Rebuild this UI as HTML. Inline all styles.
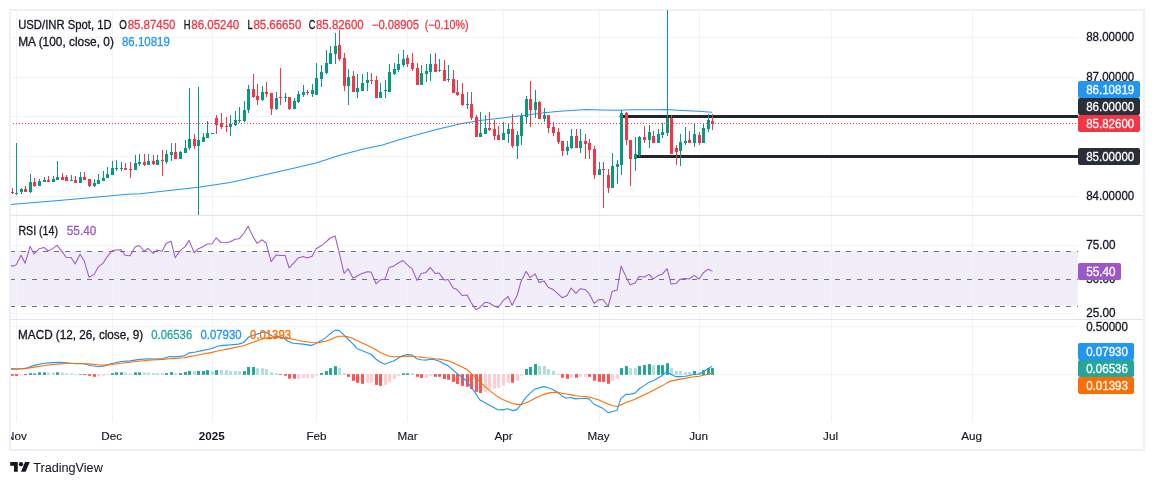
<!DOCTYPE html>
<html lang="en"><head><meta charset="utf-8"><title>USD/INR Spot chart</title>
<style>html,body{margin:0;padding:0;background:#fff}body{width:1154px;height:485px;overflow:hidden}</style></head>
<body>
<svg width="1154" height="485" viewBox="0 0 1154 485" style="display:block;font-family:'Liberation Sans', sans-serif;will-change:transform">
<defs><clipPath id="cp"><rect x="11" y="10" width="1067" height="411"/></clipPath><clipPath id="ct"><rect x="11" y="421" width="1132" height="28"/></clipPath></defs>
<rect x="0" y="0" width="1154" height="485" fill="#ffffff"/>
<rect x="11" y="251" width="1067" height="55" fill="#f2eef9" shape-rendering="crispEdges"/>
<g fill="#f2f3f4" shape-rendering="crispEdges">
<rect x="16" y="11" width="1" height="411"/>
<rect x="112" y="11" width="1" height="411"/>
<rect x="212" y="11" width="1" height="411"/>
<rect x="316" y="11" width="1" height="411"/>
<rect x="407" y="11" width="1" height="411"/>
<rect x="503" y="11" width="1" height="411"/>
<rect x="599" y="11" width="1" height="411"/>
<rect x="699" y="11" width="1" height="411"/>
<rect x="831" y="11" width="1" height="411"/>
<rect x="972" y="11" width="1" height="411"/>
<rect x="11" y="37" width="1067" height="1"/>
<rect x="11" y="77" width="1067" height="1"/>
<rect x="11" y="116" width="1067" height="1"/>
<rect x="11" y="156" width="1067" height="1"/>
<rect x="11" y="196" width="1067" height="1"/>
<rect x="11" y="245" width="1067" height="1"/>
<rect x="11" y="279" width="1067" height="1"/>
<rect x="11" y="313" width="1067" height="1"/>
<rect x="11" y="326" width="1067" height="1"/>
<rect x="11" y="374" width="1067" height="1"/>
</g>
<g fill="#e0e3eb" shape-rendering="crispEdges"><rect x="11" y="215" width="1132" height="1"/><rect x="11" y="319" width="1132" height="1"/></g>
<g stroke="#6f727c" stroke-width="1" stroke-dasharray="5 6" shape-rendering="crispEdges">
<line x1="10" y1="251.5" x2="1078" y2="251.5"/>
<line x1="10" y1="279.5" x2="1078" y2="279.5"/>
<line x1="10" y1="306.5" x2="1078" y2="306.5"/>
</g>
<rect x="10" y="10" width="1134" height="440" fill="none" stroke="#eef0f5" stroke-width="2" shape-rendering="crispEdges"/>
<g clip-path="url(#cp)">
<line x1="621" y1="116.5" x2="1078" y2="116.5" stroke="#22262f" stroke-width="3" stroke-linecap="round"/>
<line x1="635.5" y1="156.5" x2="1078" y2="156.5" stroke="#22262f" stroke-width="3" stroke-linecap="round"/>
<polyline points="10.6,204.5 70.4,199.5 128.0,194.3 140.0,193.7 198.4,187.3 230.0,182.4 249.1,178.3 268.1,173.9 287.2,169.7 306.3,165.3 315.8,163.0 325.3,160.1 334.9,156.7 344.4,153.9 363.5,149.1 382.5,144.9 401.6,139.0 420.7,133.8 439.7,128.7 460.8,123.7 481.6,120.3 502.4,118.0 523.0,115.4 544.0,112.8 560.0,111.2 571.0,110.4 586.0,109.5 602.0,109.9 617.6,110.2 633.0,109.7 654.0,109.7 666.0,109.6 681.6,110.4 699.0,111.2 711.7,112.3" fill="none" stroke="#2196f3" stroke-width="1.05" stroke-linejoin="round" stroke-linecap="round"/>
<g shape-rendering="crispEdges">
<rect x="12" y="188" width="1" height="6" fill="#f23645"/>
<rect x="11" y="192" width="3" height="1" fill="#f23645"/>
<rect x="16" y="143" width="1" height="52" fill="#089981"/>
<rect x="15" y="193" width="3" height="1" fill="#089981"/>
<rect x="21" y="188" width="1" height="6" fill="#089981"/>
<rect x="20" y="189" width="3" height="3" fill="#089981"/>
<rect x="25" y="186" width="1" height="6" fill="#f23645"/>
<rect x="24" y="189" width="3" height="3" fill="#f23645"/>
<rect x="30" y="174" width="1" height="19" fill="#089981"/>
<rect x="29" y="182" width="3" height="10" fill="#089981"/>
<rect x="34" y="178" width="1" height="9" fill="#f23645"/>
<rect x="33" y="182" width="3" height="4" fill="#f23645"/>
<rect x="39" y="179" width="1" height="7" fill="#089981"/>
<rect x="38" y="181" width="3" height="5" fill="#089981"/>
<rect x="44" y="177" width="1" height="5" fill="#089981"/>
<rect x="43" y="180" width="3" height="2" fill="#089981"/>
<rect x="48" y="176" width="1" height="6" fill="#f23645"/>
<rect x="47" y="180" width="3" height="2" fill="#f23645"/>
<rect x="53" y="176" width="1" height="6" fill="#089981"/>
<rect x="52" y="179" width="3" height="3" fill="#089981"/>
<rect x="57" y="161" width="1" height="19" fill="#089981"/>
<rect x="56" y="177" width="3" height="3" fill="#089981"/>
<rect x="62" y="173" width="1" height="7" fill="#f23645"/>
<rect x="61" y="177" width="3" height="3" fill="#f23645"/>
<rect x="66" y="175" width="1" height="6" fill="#f23645"/>
<rect x="65" y="177" width="3" height="4" fill="#f23645"/>
<rect x="71" y="175" width="1" height="6" fill="#089981"/>
<rect x="70" y="180" width="3" height="1" fill="#089981"/>
<rect x="75" y="176" width="1" height="7" fill="#f23645"/>
<rect x="74" y="180" width="3" height="3" fill="#f23645"/>
<rect x="80" y="172" width="1" height="11" fill="#089981"/>
<rect x="79" y="177" width="3" height="6" fill="#089981"/>
<rect x="84" y="172" width="1" height="8" fill="#f23645"/>
<rect x="83" y="177" width="3" height="3" fill="#f23645"/>
<rect x="89" y="179" width="1" height="8" fill="#f23645"/>
<rect x="88" y="179" width="3" height="7" fill="#f23645"/>
<rect x="94" y="179" width="1" height="8" fill="#089981"/>
<rect x="93" y="183" width="3" height="3" fill="#089981"/>
<rect x="98" y="174" width="1" height="10" fill="#089981"/>
<rect x="97" y="180" width="3" height="4" fill="#089981"/>
<rect x="103" y="171" width="1" height="10" fill="#089981"/>
<rect x="102" y="178" width="3" height="3" fill="#089981"/>
<rect x="107" y="167" width="1" height="11" fill="#089981"/>
<rect x="106" y="174" width="3" height="4" fill="#089981"/>
<rect x="112" y="161" width="1" height="14" fill="#089981"/>
<rect x="111" y="168" width="3" height="7" fill="#089981"/>
<rect x="116" y="160" width="1" height="11" fill="#089981"/>
<rect x="115" y="168" width="3" height="1" fill="#089981"/>
<rect x="121" y="162" width="1" height="9" fill="#089981"/>
<rect x="120" y="168" width="3" height="1" fill="#089981"/>
<rect x="125" y="163" width="1" height="7" fill="#f23645"/>
<rect x="124" y="168" width="3" height="2" fill="#f23645"/>
<rect x="130" y="162" width="1" height="16" fill="#f23645"/>
<rect x="129" y="169" width="3" height="1" fill="#f23645"/>
<rect x="135" y="155" width="1" height="15" fill="#089981"/>
<rect x="134" y="163" width="3" height="7" fill="#089981"/>
<rect x="139" y="154" width="1" height="12" fill="#089981"/>
<rect x="138" y="162" width="3" height="2" fill="#089981"/>
<rect x="144" y="154" width="1" height="12" fill="#f23645"/>
<rect x="143" y="162" width="3" height="3" fill="#f23645"/>
<rect x="148" y="154" width="1" height="11" fill="#089981"/>
<rect x="147" y="161" width="3" height="4" fill="#089981"/>
<rect x="153" y="155" width="1" height="10" fill="#f23645"/>
<rect x="152" y="161" width="3" height="3" fill="#f23645"/>
<rect x="157" y="155" width="1" height="10" fill="#089981"/>
<rect x="156" y="160" width="3" height="5" fill="#089981"/>
<rect x="162" y="150" width="1" height="26" fill="#f23645"/>
<rect x="161" y="160" width="3" height="1" fill="#f23645"/>
<rect x="166" y="150" width="1" height="14" fill="#089981"/>
<rect x="165" y="154" width="3" height="8" fill="#089981"/>
<rect x="171" y="143" width="1" height="18" fill="#089981"/>
<rect x="170" y="152" width="3" height="3" fill="#089981"/>
<rect x="175" y="143" width="1" height="16" fill="#f23645"/>
<rect x="174" y="152" width="3" height="7" fill="#f23645"/>
<rect x="180" y="151" width="1" height="8" fill="#089981"/>
<rect x="179" y="152" width="3" height="7" fill="#089981"/>
<rect x="185" y="140" width="1" height="13" fill="#089981"/>
<rect x="184" y="148" width="3" height="5" fill="#089981"/>
<rect x="189" y="88" width="1" height="62" fill="#089981"/>
<rect x="188" y="139" width="3" height="9" fill="#089981"/>
<rect x="194" y="134" width="1" height="15" fill="#f23645"/>
<rect x="193" y="139" width="3" height="7" fill="#f23645"/>
<rect x="198" y="87" width="1" height="128" fill="#089981"/>
<rect x="197" y="140" width="3" height="6" fill="#089981"/>
<rect x="203" y="133" width="1" height="9" fill="#089981"/>
<rect x="202" y="137" width="3" height="5" fill="#089981"/>
<rect x="207" y="121" width="1" height="17" fill="#089981"/>
<rect x="206" y="133" width="3" height="5" fill="#089981"/>
<rect x="212" y="133" width="1" height="1" fill="#089981"/>
<rect x="211" y="133" width="3" height="1" fill="#089981"/>
<rect x="216" y="115" width="1" height="19" fill="#f23645"/>
<rect x="215" y="118" width="3" height="7" fill="#f23645"/>
<rect x="221" y="113" width="1" height="16" fill="#f23645"/>
<rect x="220" y="123" width="3" height="4" fill="#f23645"/>
<rect x="226" y="117" width="1" height="15" fill="#f23645"/>
<rect x="225" y="126" width="3" height="1" fill="#f23645"/>
<rect x="230" y="115" width="1" height="21" fill="#089981"/>
<rect x="229" y="124" width="3" height="3" fill="#089981"/>
<rect x="235" y="111" width="1" height="15" fill="#089981"/>
<rect x="234" y="120" width="3" height="5" fill="#089981"/>
<rect x="239" y="107" width="1" height="16" fill="#089981"/>
<rect x="238" y="120" width="3" height="1" fill="#089981"/>
<rect x="244" y="101" width="1" height="21" fill="#089981"/>
<rect x="243" y="110" width="3" height="11" fill="#089981"/>
<rect x="248" y="85" width="1" height="28" fill="#089981"/>
<rect x="247" y="89" width="3" height="21" fill="#089981"/>
<rect x="253" y="74" width="1" height="24" fill="#f23645"/>
<rect x="252" y="89" width="3" height="8" fill="#f23645"/>
<rect x="257" y="84" width="1" height="21" fill="#f23645"/>
<rect x="256" y="96" width="3" height="4" fill="#f23645"/>
<rect x="262" y="86" width="1" height="15" fill="#089981"/>
<rect x="261" y="92" width="3" height="8" fill="#089981"/>
<rect x="266" y="82" width="1" height="15" fill="#f23645"/>
<rect x="265" y="92" width="3" height="2" fill="#f23645"/>
<rect x="271" y="93" width="1" height="22" fill="#f23645"/>
<rect x="270" y="93" width="3" height="16" fill="#f23645"/>
<rect x="276" y="92" width="1" height="18" fill="#089981"/>
<rect x="275" y="98" width="3" height="11" fill="#089981"/>
<rect x="280" y="68" width="1" height="37" fill="#f23645"/>
<rect x="279" y="97" width="3" height="1" fill="#f23645"/>
<rect x="285" y="93" width="1" height="9" fill="#089981"/>
<rect x="284" y="97" width="3" height="1" fill="#089981"/>
<rect x="289" y="97" width="1" height="13" fill="#f23645"/>
<rect x="288" y="97" width="3" height="12" fill="#f23645"/>
<rect x="294" y="98" width="1" height="11" fill="#089981"/>
<rect x="293" y="101" width="3" height="8" fill="#089981"/>
<rect x="298" y="91" width="1" height="12" fill="#089981"/>
<rect x="297" y="94" width="3" height="8" fill="#089981"/>
<rect x="303" y="85" width="1" height="12" fill="#089981"/>
<rect x="302" y="92" width="3" height="3" fill="#089981"/>
<rect x="307" y="90" width="1" height="5" fill="#f23645"/>
<rect x="306" y="92" width="3" height="1" fill="#f23645"/>
<rect x="312" y="84" width="1" height="13" fill="#089981"/>
<rect x="311" y="90" width="3" height="4" fill="#089981"/>
<rect x="316" y="63" width="1" height="32" fill="#089981"/>
<rect x="315" y="78" width="3" height="17" fill="#089981"/>
<rect x="321" y="65" width="1" height="22" fill="#089981"/>
<rect x="320" y="72" width="3" height="7" fill="#089981"/>
<rect x="326" y="50" width="1" height="24" fill="#089981"/>
<rect x="325" y="63" width="3" height="10" fill="#089981"/>
<rect x="330" y="46" width="1" height="18" fill="#089981"/>
<rect x="329" y="53" width="3" height="11" fill="#089981"/>
<rect x="335" y="33" width="1" height="31" fill="#089981"/>
<rect x="334" y="46" width="3" height="8" fill="#089981"/>
<rect x="339" y="30" width="1" height="31" fill="#f23645"/>
<rect x="338" y="45" width="3" height="14" fill="#f23645"/>
<rect x="344" y="53" width="1" height="38" fill="#f23645"/>
<rect x="343" y="58" width="3" height="28" fill="#f23645"/>
<rect x="348" y="69" width="1" height="36" fill="#089981"/>
<rect x="347" y="77" width="3" height="9" fill="#089981"/>
<rect x="353" y="71" width="1" height="21" fill="#f23645"/>
<rect x="352" y="76" width="3" height="16" fill="#f23645"/>
<rect x="357" y="74" width="1" height="24" fill="#089981"/>
<rect x="356" y="88" width="3" height="4" fill="#089981"/>
<rect x="362" y="74" width="1" height="17" fill="#089981"/>
<rect x="361" y="83" width="3" height="8" fill="#089981"/>
<rect x="367" y="72" width="1" height="19" fill="#089981"/>
<rect x="366" y="80" width="3" height="3" fill="#089981"/>
<rect x="371" y="73" width="1" height="11" fill="#f23645"/>
<rect x="370" y="80" width="3" height="1" fill="#f23645"/>
<rect x="376" y="76" width="1" height="22" fill="#f23645"/>
<rect x="375" y="80" width="3" height="18" fill="#f23645"/>
<rect x="380" y="83" width="1" height="15" fill="#089981"/>
<rect x="379" y="92" width="3" height="6" fill="#089981"/>
<rect x="385" y="80" width="1" height="18" fill="#089981"/>
<rect x="384" y="90" width="3" height="1" fill="#089981"/>
<rect x="389" y="64" width="1" height="28" fill="#089981"/>
<rect x="388" y="72" width="3" height="20" fill="#089981"/>
<rect x="394" y="63" width="1" height="12" fill="#089981"/>
<rect x="393" y="69" width="3" height="5" fill="#089981"/>
<rect x="398" y="54" width="1" height="18" fill="#089981"/>
<rect x="397" y="64" width="3" height="6" fill="#089981"/>
<rect x="403" y="50" width="1" height="17" fill="#089981"/>
<rect x="402" y="59" width="3" height="6" fill="#089981"/>
<rect x="407" y="55" width="1" height="12" fill="#f23645"/>
<rect x="406" y="58" width="3" height="6" fill="#f23645"/>
<rect x="412" y="53" width="1" height="18" fill="#f23645"/>
<rect x="411" y="63" width="3" height="6" fill="#f23645"/>
<rect x="417" y="63" width="1" height="22" fill="#f23645"/>
<rect x="416" y="68" width="3" height="17" fill="#f23645"/>
<rect x="421" y="65" width="1" height="20" fill="#089981"/>
<rect x="420" y="73" width="3" height="12" fill="#089981"/>
<rect x="426" y="64" width="1" height="18" fill="#089981"/>
<rect x="425" y="71" width="3" height="3" fill="#089981"/>
<rect x="430" y="54" width="1" height="27" fill="#089981"/>
<rect x="429" y="64" width="3" height="8" fill="#089981"/>
<rect x="435" y="53" width="1" height="19" fill="#f23645"/>
<rect x="434" y="64" width="3" height="8" fill="#f23645"/>
<rect x="439" y="59" width="1" height="13" fill="#089981"/>
<rect x="438" y="70" width="3" height="1" fill="#089981"/>
<rect x="444" y="60" width="1" height="21" fill="#f23645"/>
<rect x="443" y="70" width="3" height="11" fill="#f23645"/>
<rect x="448" y="65" width="1" height="17" fill="#089981"/>
<rect x="447" y="79" width="3" height="1" fill="#089981"/>
<rect x="453" y="70" width="1" height="23" fill="#f23645"/>
<rect x="452" y="79" width="3" height="14" fill="#f23645"/>
<rect x="457" y="80" width="1" height="16" fill="#f23645"/>
<rect x="456" y="92" width="3" height="3" fill="#f23645"/>
<rect x="462" y="83" width="1" height="23" fill="#f23645"/>
<rect x="461" y="94" width="3" height="11" fill="#f23645"/>
<rect x="467" y="92" width="1" height="17" fill="#089981"/>
<rect x="466" y="104" width="3" height="1" fill="#089981"/>
<rect x="471" y="92" width="1" height="28" fill="#f23645"/>
<rect x="470" y="104" width="3" height="14" fill="#f23645"/>
<rect x="476" y="115" width="1" height="22" fill="#f23645"/>
<rect x="475" y="117" width="3" height="20" fill="#f23645"/>
<rect x="480" y="112" width="1" height="25" fill="#089981"/>
<rect x="479" y="133" width="3" height="4" fill="#089981"/>
<rect x="485" y="115" width="1" height="19" fill="#089981"/>
<rect x="484" y="128" width="3" height="6" fill="#089981"/>
<rect x="489" y="112" width="1" height="19" fill="#f23645"/>
<rect x="488" y="128" width="3" height="2" fill="#f23645"/>
<rect x="494" y="120" width="1" height="20" fill="#f23645"/>
<rect x="493" y="129" width="3" height="7" fill="#f23645"/>
<rect x="498" y="126" width="1" height="14" fill="#f23645"/>
<rect x="497" y="135" width="3" height="5" fill="#f23645"/>
<rect x="503" y="122" width="1" height="18" fill="#089981"/>
<rect x="502" y="133" width="3" height="7" fill="#089981"/>
<rect x="508" y="124" width="1" height="19" fill="#089981"/>
<rect x="507" y="129" width="3" height="5" fill="#089981"/>
<rect x="512" y="114" width="1" height="34" fill="#f23645"/>
<rect x="511" y="129" width="3" height="17" fill="#f23645"/>
<rect x="517" y="131" width="1" height="28" fill="#089981"/>
<rect x="516" y="135" width="3" height="11" fill="#089981"/>
<rect x="521" y="113" width="1" height="32" fill="#089981"/>
<rect x="520" y="116" width="3" height="20" fill="#089981"/>
<rect x="526" y="96" width="1" height="27" fill="#089981"/>
<rect x="525" y="99" width="3" height="18" fill="#089981"/>
<rect x="530" y="81" width="1" height="46" fill="#f23645"/>
<rect x="529" y="99" width="3" height="11" fill="#f23645"/>
<rect x="535" y="90" width="1" height="28" fill="#089981"/>
<rect x="534" y="102" width="3" height="8" fill="#089981"/>
<rect x="539" y="101" width="1" height="18" fill="#f23645"/>
<rect x="538" y="102" width="3" height="17" fill="#f23645"/>
<rect x="544" y="108" width="1" height="14" fill="#089981"/>
<rect x="543" y="115" width="3" height="4" fill="#089981"/>
<rect x="548" y="115" width="1" height="18" fill="#f23645"/>
<rect x="547" y="115" width="3" height="13" fill="#f23645"/>
<rect x="553" y="122" width="1" height="14" fill="#f23645"/>
<rect x="552" y="127" width="3" height="6" fill="#f23645"/>
<rect x="558" y="128" width="1" height="16" fill="#f23645"/>
<rect x="557" y="132" width="3" height="10" fill="#f23645"/>
<rect x="562" y="141" width="1" height="15" fill="#f23645"/>
<rect x="561" y="141" width="3" height="10" fill="#f23645"/>
<rect x="567" y="141" width="1" height="14" fill="#089981"/>
<rect x="566" y="147" width="3" height="4" fill="#089981"/>
<rect x="571" y="129" width="1" height="20" fill="#089981"/>
<rect x="570" y="136" width="3" height="12" fill="#089981"/>
<rect x="576" y="129" width="1" height="19" fill="#f23645"/>
<rect x="575" y="136" width="3" height="12" fill="#f23645"/>
<rect x="580" y="129" width="1" height="24" fill="#089981"/>
<rect x="579" y="141" width="3" height="7" fill="#089981"/>
<rect x="585" y="134" width="1" height="25" fill="#f23645"/>
<rect x="584" y="141" width="3" height="3" fill="#f23645"/>
<rect x="589" y="139" width="1" height="20" fill="#f23645"/>
<rect x="588" y="143" width="3" height="7" fill="#f23645"/>
<rect x="594" y="146" width="1" height="33" fill="#f23645"/>
<rect x="593" y="149" width="3" height="26" fill="#f23645"/>
<rect x="599" y="162" width="1" height="13" fill="#089981"/>
<rect x="598" y="169" width="3" height="6" fill="#089981"/>
<rect x="603" y="162" width="1" height="46" fill="#f23645"/>
<rect x="602" y="169" width="3" height="1" fill="#f23645"/>
<rect x="608" y="169" width="1" height="24" fill="#f23645"/>
<rect x="607" y="175" width="3" height="13" fill="#f23645"/>
<rect x="612" y="153" width="1" height="35" fill="#089981"/>
<rect x="611" y="166" width="3" height="22" fill="#089981"/>
<rect x="617" y="160" width="1" height="24" fill="#089981"/>
<rect x="616" y="164" width="3" height="3" fill="#089981"/>
<rect x="621" y="110" width="1" height="65" fill="#089981"/>
<rect x="620" y="113" width="3" height="52" fill="#089981"/>
<rect x="626" y="112" width="1" height="33" fill="#f23645"/>
<rect x="625" y="113" width="3" height="27" fill="#f23645"/>
<rect x="630" y="140" width="1" height="46" fill="#f23645"/>
<rect x="629" y="140" width="3" height="19" fill="#f23645"/>
<rect x="635" y="137" width="1" height="34" fill="#089981"/>
<rect x="634" y="154" width="3" height="5" fill="#089981"/>
<rect x="639" y="136" width="1" height="21" fill="#089981"/>
<rect x="638" y="137" width="3" height="18" fill="#089981"/>
<rect x="644" y="126" width="1" height="17" fill="#f23645"/>
<rect x="643" y="137" width="3" height="3" fill="#f23645"/>
<rect x="649" y="125" width="1" height="23" fill="#089981"/>
<rect x="648" y="132" width="3" height="8" fill="#089981"/>
<rect x="653" y="131" width="1" height="12" fill="#f23645"/>
<rect x="652" y="136" width="3" height="7" fill="#f23645"/>
<rect x="658" y="129" width="1" height="14" fill="#089981"/>
<rect x="657" y="134" width="3" height="9" fill="#089981"/>
<rect x="662" y="123" width="1" height="15" fill="#089981"/>
<rect x="661" y="132" width="3" height="3" fill="#089981"/>
<rect x="667" y="10" width="1" height="126" fill="#089981"/>
<rect x="666" y="118" width="3" height="15" fill="#089981"/>
<rect x="671" y="115" width="1" height="39" fill="#f23645"/>
<rect x="670" y="118" width="3" height="36" fill="#f23645"/>
<rect x="676" y="145" width="1" height="20" fill="#f23645"/>
<rect x="675" y="148" width="3" height="4" fill="#f23645"/>
<rect x="680" y="134" width="1" height="32" fill="#089981"/>
<rect x="679" y="142" width="3" height="9" fill="#089981"/>
<rect x="685" y="127" width="1" height="18" fill="#089981"/>
<rect x="684" y="141" width="3" height="2" fill="#089981"/>
<rect x="689" y="131" width="1" height="12" fill="#f23645"/>
<rect x="688" y="140" width="3" height="3" fill="#f23645"/>
<rect x="694" y="124" width="1" height="23" fill="#089981"/>
<rect x="693" y="134" width="3" height="9" fill="#089981"/>
<rect x="699" y="132" width="1" height="13" fill="#f23645"/>
<rect x="698" y="135" width="3" height="8" fill="#f23645"/>
<rect x="703" y="124" width="1" height="19" fill="#089981"/>
<rect x="702" y="128" width="3" height="15" fill="#089981"/>
<rect x="708" y="114" width="1" height="18" fill="#089981"/>
<rect x="707" y="120" width="3" height="9" fill="#089981"/>
<rect x="712" y="114" width="1" height="16" fill="#f23645"/>
<rect x="711" y="121" width="3" height="3" fill="#f23645"/>
</g>
<line x1="10" y1="123.5" x2="1078" y2="123.5" stroke="#f23645" stroke-width="1" stroke-dasharray="1 2" shape-rendering="crispEdges"/>
<polyline points="10.3,264.6 12.1,266.3 16.1,265.0 21.1,255.2 25.1,263.3 30.1,246.4 34.1,253.9 39.1,248.8 44.1,247.4 48.1,251.0 53.1,248.4 57.1,245.4 62.1,251.6 66.1,257.2 71.1,257.5 75.1,264.0 80.1,254.2 84.1,260.7 89.1,277.3 94.1,274.4 98.1,267.2 103.1,263.1 107.1,256.8 112.1,250.7 116.1,250.1 121.1,249.7 125.1,255.2 130.1,255.8 135.1,247.1 139.1,245.5 144.1,251.0 148.1,248.4 153.1,253.4 157.1,250.0 162.1,251.2 166.1,243.4 171.1,241.2 175.1,257.7 180.1,250.9 185.1,246.6 189.1,240.4 194.1,252.5 198.1,248.9 203.1,246.6 207.1,244.0 212.1,243.8 216.1,237.8 221.1,242.5 226.1,242.7 230.1,241.8 235.1,239.2 239.1,238.8 244.1,233.0 248.1,226.2 253.1,236.9 257.1,243.4 262.1,239.8 266.1,243.0 271.1,261.6 276.1,255.1 280.1,255.5 285.1,255.4 289.1,267.8 294.1,262.6 298.1,258.1 303.1,256.6 307.1,258.1 312.1,256.2 316.1,248.8 321.1,245.8 326.1,241.9 330.1,238.0 335.1,236.0 339.1,252.3 344.1,273.5 348.1,268.8 353.1,278.3 357.1,276.0 362.1,273.4 367.1,271.8 371.1,272.1 376.1,283.8 380.1,279.9 385.1,278.9 389.1,267.6 394.1,265.9 398.1,263.0 403.1,260.5 407.1,264.6 412.1,268.8 417.1,280.6 421.1,273.4 426.1,272.4 430.1,267.4 435.1,273.4 439.1,273.0 444.1,279.9 448.1,279.5 453.1,288.0 457.1,289.6 462.1,295.5 467.1,295.1 471.1,302.6 476.1,309.8 480.1,307.2 485.1,302.3 489.1,303.0 494.1,305.9 498.1,307.5 503.1,300.7 508.1,296.5 512.1,305.2 517.1,295.5 521.1,281.2 526.1,271.4 530.1,277.7 535.1,273.8 539.1,282.5 544.1,280.9 548.1,287.3 553.1,289.6 558.1,293.8 562.1,297.7 567.1,295.5 571.1,288.1 576.1,293.3 580.1,288.8 585.1,289.4 589.1,293.5 594.1,303.3 599.1,299.4 603.1,299.8 608.1,306.5 612.1,291.6 617.1,290.0 621.1,266.2 626.1,276.9 630.1,284.7 635.1,283.1 639.1,276.4 644.1,277.0 649.1,274.4 653.1,278.9 658.1,275.6 662.1,274.3 667.1,268.6 671.1,284.1 676.1,283.4 680.1,279.2 685.1,278.6 689.1,279.0 694.1,275.3 699.1,279.0 703.1,273.0 708.1,269.2 712.1,271.1" fill="none" stroke="#9c59c6" stroke-width="1.05" stroke-linejoin="round" stroke-linecap="round"/>
<g>
<rect x="11" y="374.1" width="3" height="1.7" fill="#ff5252"/>
<rect x="15" y="374.1" width="3" height="1.9" fill="#ff5252"/>
<rect x="20" y="374.1" width="3" height="0.9" fill="#ffcdd2"/>
<rect x="24" y="374.1" width="3" height="1.0" fill="#ff5252"/>
<rect x="29" y="373.2" width="3" height="1.7" fill="#26a69a"/>
<rect x="33" y="373.5" width="3" height="1.4" fill="#26a69a"/>
<rect x="38" y="372.3" width="3" height="2.6" fill="#26a69a"/>
<rect x="43" y="372.3" width="3" height="2.6" fill="#26a69a"/>
<rect x="47" y="372.6" width="3" height="2.3" fill="#b2dfdb"/>
<rect x="52" y="372.6" width="3" height="2.3" fill="#b2dfdb"/>
<rect x="56" y="372.3" width="3" height="2.6" fill="#26a69a"/>
<rect x="61" y="372.6" width="3" height="2.3" fill="#b2dfdb"/>
<rect x="65" y="373.5" width="3" height="1.4" fill="#b2dfdb"/>
<rect x="70" y="373.5" width="3" height="1.4" fill="#b2dfdb"/>
<rect x="74" y="374.2" width="3" height="0.7" fill="#b2dfdb"/>
<rect x="79" y="374.2" width="3" height="0.7" fill="#26a69a"/>
<rect x="83" y="374.1" width="3" height="0.9" fill="#ff5252"/>
<rect x="88" y="374.1" width="3" height="1.7" fill="#ff5252"/>
<rect x="93" y="374.1" width="3" height="2.7" fill="#ff5252"/>
<rect x="97" y="374.1" width="3" height="2.4" fill="#ffcdd2"/>
<rect x="102" y="374.1" width="3" height="1.7" fill="#ffcdd2"/>
<rect x="106" y="374.1" width="3" height="0.9" fill="#ffcdd2"/>
<rect x="111" y="373.2" width="3" height="1.7" fill="#26a69a"/>
<rect x="115" y="372.3" width="3" height="2.6" fill="#26a69a"/>
<rect x="120" y="372.3" width="3" height="2.6" fill="#26a69a"/>
<rect x="124" y="372.6" width="3" height="2.3" fill="#b2dfdb"/>
<rect x="129" y="373.5" width="3" height="1.4" fill="#b2dfdb"/>
<rect x="134" y="372.3" width="3" height="2.6" fill="#26a69a"/>
<rect x="138" y="372.3" width="3" height="2.6" fill="#26a69a"/>
<rect x="143" y="372.6" width="3" height="2.3" fill="#b2dfdb"/>
<rect x="147" y="372.6" width="3" height="2.3" fill="#b2dfdb"/>
<rect x="152" y="373.1" width="3" height="1.8" fill="#b2dfdb"/>
<rect x="156" y="373.1" width="3" height="1.8" fill="#b2dfdb"/>
<rect x="161" y="373.1" width="3" height="1.8" fill="#b2dfdb"/>
<rect x="165" y="373.1" width="3" height="1.8" fill="#26a69a"/>
<rect x="170" y="372.1" width="3" height="2.8" fill="#26a69a"/>
<rect x="174" y="373.1" width="3" height="1.8" fill="#b2dfdb"/>
<rect x="179" y="373.1" width="3" height="1.8" fill="#26a69a"/>
<rect x="184" y="372.1" width="3" height="2.8" fill="#26a69a"/>
<rect x="188" y="370.9" width="3" height="4.0" fill="#26a69a"/>
<rect x="193" y="371.1" width="3" height="3.8" fill="#b2dfdb"/>
<rect x="197" y="370.9" width="3" height="4.0" fill="#26a69a"/>
<rect x="202" y="370.9" width="3" height="4.0" fill="#26a69a"/>
<rect x="206" y="370.1" width="3" height="4.8" fill="#26a69a"/>
<rect x="211" y="371.1" width="3" height="3.8" fill="#b2dfdb"/>
<rect x="215" y="370.1" width="3" height="4.8" fill="#26a69a"/>
<rect x="220" y="370.1" width="3" height="4.8" fill="#b2dfdb"/>
<rect x="225" y="370.1" width="3" height="4.8" fill="#b2dfdb"/>
<rect x="229" y="371.1" width="3" height="3.8" fill="#b2dfdb"/>
<rect x="234" y="371.1" width="3" height="3.8" fill="#b2dfdb"/>
<rect x="238" y="371.1" width="3" height="3.8" fill="#b2dfdb"/>
<rect x="243" y="371.1" width="3" height="3.8" fill="#26a69a"/>
<rect x="247" y="367.0" width="3" height="7.9" fill="#26a69a"/>
<rect x="252" y="367.0" width="3" height="7.9" fill="#26a69a"/>
<rect x="256" y="368.2" width="3" height="6.7" fill="#b2dfdb"/>
<rect x="261" y="368.2" width="3" height="6.7" fill="#b2dfdb"/>
<rect x="265" y="369.2" width="3" height="5.7" fill="#b2dfdb"/>
<rect x="270" y="372.1" width="3" height="2.8" fill="#b2dfdb"/>
<rect x="275" y="373.1" width="3" height="1.8" fill="#b2dfdb"/>
<rect x="279" y="374.1" width="3" height="0.9" fill="#ff5252"/>
<rect x="284" y="374.1" width="3" height="1.6" fill="#ff5252"/>
<rect x="288" y="374.1" width="3" height="4.6" fill="#ff5252"/>
<rect x="293" y="374.1" width="3" height="4.6" fill="#ff5252"/>
<rect x="297" y="374.1" width="3" height="4.6" fill="#ffcdd2"/>
<rect x="302" y="374.1" width="3" height="3.8" fill="#ffcdd2"/>
<rect x="306" y="374.1" width="3" height="3.8" fill="#ffcdd2"/>
<rect x="311" y="374.1" width="3" height="3.8" fill="#ffcdd2"/>
<rect x="315" y="374.1" width="3" height="1.6" fill="#ffcdd2"/>
<rect x="320" y="373.1" width="3" height="1.8" fill="#26a69a"/>
<rect x="325" y="371.1" width="3" height="3.8" fill="#26a69a"/>
<rect x="329" y="368.1" width="3" height="6.8" fill="#26a69a"/>
<rect x="334" y="366.2" width="3" height="8.7" fill="#26a69a"/>
<rect x="338" y="368.1" width="3" height="6.8" fill="#b2dfdb"/>
<rect x="343" y="373.3" width="3" height="1.6" fill="#b2dfdb"/>
<rect x="347" y="374.1" width="3" height="2.8" fill="#ff5252"/>
<rect x="352" y="374.1" width="3" height="6.7" fill="#ff5252"/>
<rect x="356" y="374.1" width="3" height="8.7" fill="#ff5252"/>
<rect x="361" y="374.1" width="3" height="9.7" fill="#ff5252"/>
<rect x="366" y="374.1" width="3" height="8.7" fill="#ffcdd2"/>
<rect x="370" y="374.1" width="3" height="8.7" fill="#ffcdd2"/>
<rect x="375" y="374.1" width="3" height="10.8" fill="#ff5252"/>
<rect x="379" y="374.1" width="3" height="11.8" fill="#ff5252"/>
<rect x="384" y="374.1" width="3" height="10.8" fill="#ffcdd2"/>
<rect x="388" y="374.1" width="3" height="7.8" fill="#ffcdd2"/>
<rect x="393" y="374.1" width="3" height="4.7" fill="#ffcdd2"/>
<rect x="397" y="374.1" width="3" height="1.7" fill="#ffcdd2"/>
<rect x="402" y="373.3" width="3" height="1.6" fill="#26a69a"/>
<rect x="406" y="373.3" width="3" height="1.6" fill="#26a69a"/>
<rect x="411" y="373.3" width="3" height="1.6" fill="#b2dfdb"/>
<rect x="416" y="374.1" width="3" height="2.7" fill="#ff5252"/>
<rect x="420" y="374.1" width="3" height="3.9" fill="#ff5252"/>
<rect x="425" y="374.1" width="3" height="3.7" fill="#ffcdd2"/>
<rect x="429" y="374.1" width="3" height="1.7" fill="#ffcdd2"/>
<rect x="434" y="374.1" width="3" height="2.7" fill="#ff5252"/>
<rect x="438" y="374.1" width="3" height="2.7" fill="#ff5252"/>
<rect x="443" y="374.1" width="3" height="4.9" fill="#ff5252"/>
<rect x="447" y="374.1" width="3" height="5.6" fill="#ff5252"/>
<rect x="452" y="374.1" width="3" height="7.8" fill="#ff5252"/>
<rect x="456" y="374.1" width="3" height="9.8" fill="#ff5252"/>
<rect x="461" y="374.1" width="3" height="11.8" fill="#ff5252"/>
<rect x="466" y="374.1" width="3" height="12.7" fill="#ff5252"/>
<rect x="470" y="374.1" width="3" height="15.0" fill="#ff5252"/>
<rect x="475" y="374.1" width="3" height="17.7" fill="#ff5252"/>
<rect x="479" y="374.1" width="3" height="18.9" fill="#ff5252"/>
<rect x="484" y="374.1" width="3" height="17.7" fill="#ffcdd2"/>
<rect x="488" y="374.1" width="3" height="15.4" fill="#ffcdd2"/>
<rect x="493" y="374.1" width="3" height="14.5" fill="#ffcdd2"/>
<rect x="497" y="374.1" width="3" height="13.6" fill="#ffcdd2"/>
<rect x="502" y="374.1" width="3" height="11.7" fill="#ffcdd2"/>
<rect x="507" y="374.1" width="3" height="8.6" fill="#ffcdd2"/>
<rect x="511" y="374.1" width="3" height="8.6" fill="#ff5252"/>
<rect x="516" y="374.1" width="3" height="6.6" fill="#ffcdd2"/>
<rect x="520" y="374.1" width="3" height="1.7" fill="#ffcdd2"/>
<rect x="525" y="369.0" width="3" height="5.9" fill="#26a69a"/>
<rect x="529" y="367.0" width="3" height="7.9" fill="#26a69a"/>
<rect x="534" y="364.1" width="3" height="10.8" fill="#26a69a"/>
<rect x="538" y="366.0" width="3" height="8.9" fill="#b2dfdb"/>
<rect x="543" y="366.0" width="3" height="8.9" fill="#b2dfdb"/>
<rect x="547" y="369.0" width="3" height="5.9" fill="#b2dfdb"/>
<rect x="552" y="371.0" width="3" height="3.9" fill="#b2dfdb"/>
<rect x="557" y="374.0" width="3" height="0.9" fill="#b2dfdb"/>
<rect x="561" y="374.1" width="3" height="3.6" fill="#ff5252"/>
<rect x="566" y="374.1" width="3" height="4.7" fill="#ff5252"/>
<rect x="570" y="374.1" width="3" height="3.6" fill="#ffcdd2"/>
<rect x="575" y="374.1" width="3" height="3.6" fill="#ff5252"/>
<rect x="579" y="374.1" width="3" height="2.7" fill="#ffcdd2"/>
<rect x="584" y="374.1" width="3" height="2.7" fill="#ffcdd2"/>
<rect x="588" y="374.1" width="3" height="2.7" fill="#ff5252"/>
<rect x="593" y="374.1" width="3" height="6.6" fill="#ff5252"/>
<rect x="598" y="374.1" width="3" height="7.8" fill="#ff5252"/>
<rect x="602" y="374.1" width="3" height="7.8" fill="#ff5252"/>
<rect x="607" y="374.1" width="3" height="9.7" fill="#ff5252"/>
<rect x="611" y="374.1" width="3" height="6.6" fill="#ffcdd2"/>
<rect x="616" y="374.1" width="3" height="4.7" fill="#ffcdd2"/>
<rect x="620" y="368.1" width="3" height="6.8" fill="#26a69a"/>
<rect x="625" y="366.1" width="3" height="8.8" fill="#26a69a"/>
<rect x="629" y="368.1" width="3" height="6.8" fill="#b2dfdb"/>
<rect x="634" y="368.1" width="3" height="6.8" fill="#b2dfdb"/>
<rect x="638" y="366.1" width="3" height="8.8" fill="#26a69a"/>
<rect x="643" y="365.1" width="3" height="9.8" fill="#26a69a"/>
<rect x="648" y="364.1" width="3" height="10.8" fill="#26a69a"/>
<rect x="652" y="365.1" width="3" height="9.8" fill="#b2dfdb"/>
<rect x="657" y="365.1" width="3" height="9.8" fill="#26a69a"/>
<rect x="661" y="365.1" width="3" height="9.8" fill="#26a69a"/>
<rect x="666" y="363.2" width="3" height="11.7" fill="#26a69a"/>
<rect x="670" y="368.1" width="3" height="6.8" fill="#b2dfdb"/>
<rect x="675" y="371.0" width="3" height="3.9" fill="#b2dfdb"/>
<rect x="679" y="371.0" width="3" height="3.9" fill="#b2dfdb"/>
<rect x="684" y="372.0" width="3" height="2.9" fill="#b2dfdb"/>
<rect x="688" y="372.0" width="3" height="2.9" fill="#b2dfdb"/>
<rect x="693" y="371.0" width="3" height="3.9" fill="#26a69a"/>
<rect x="698" y="372.0" width="3" height="2.9" fill="#b2dfdb"/>
<rect x="702" y="370.1" width="3" height="4.8" fill="#26a69a"/>
<rect x="707" y="368.1" width="3" height="6.8" fill="#26a69a"/>
<rect x="711" y="368.1" width="3" height="6.8" fill="#26a69a"/>
</g>
<polyline points="10.3,369.1 16.4,369.3 24.9,368.4 34.0,365.4 43.1,363.5 52.2,362.6 60.0,362.2 66.5,362.8 75.6,363.8 83.4,363.8 91.2,365.8 97.7,366.5 104.2,366.1 112.0,363.5 121.1,361.5 130.2,360.9 138.0,359.6 148.4,358.7 156.5,359.1 163.0,358.5 169.5,356.5 176.0,356.8 183.8,355.9 189.0,352.9 195.5,352.0 202.0,350.6 211.1,348.8 217.6,346.2 222.8,345.4 230.6,344.9 238.4,344.1 243.6,342.5 248.8,337.0 254.0,335.0 259.2,333.4 263.1,332.1 267.0,332.8 272.2,336.0 280.0,336.7 283.9,338.0 287.8,341.2 293.0,343.2 303.0,344.1 311.4,345.4 316.0,343.4 321.2,340.6 325.7,337.6 330.3,333.7 334.8,330.4 338.7,330.2 343.3,334.3 348.5,339.5 352.4,343.4 356.9,348.4 361.5,350.6 366.7,352.5 371.2,354.5 375.8,359.0 380.3,362.3 384.9,364.2 389.4,362.6 394.0,360.7 398.5,358.0 403.1,355.5 407.6,354.5 412.2,355.1 416.7,358.8 421.3,359.7 425.8,360.1 430.4,359.3 434.9,359.7 439.3,361.3 448.4,366.0 457.5,373.8 466.6,381.0 474.4,391.4 479.6,399.8 489.1,405.0 497.5,409.6 502.7,409.9 507.6,408.7 512.5,410.6 517.0,409.6 521.6,403.7 525.5,397.9 530.0,393.3 534.6,389.2 539.1,387.9 543.7,386.6 548.2,387.8 552.8,389.4 557.3,392.0 561.9,395.9 566.4,398.3 571.0,397.5 575.5,398.9 580.1,398.5 584.6,398.5 589.2,398.9 593.7,404.0 598.3,406.3 602.8,408.3 608.0,412.6 612.6,411.5 617.1,410.2 620.8,398.6 625.8,394.4 630.5,394.1 635.1,393.1 639.6,388.5 644.2,385.6 648.7,382.4 653.3,380.7 657.8,378.1 662.4,375.5 666.6,371.6 670.8,374.2 675.4,376.6 680.6,376.6 685.1,376.2 689.7,375.5 694.2,374.2 699.4,374.2 703.3,371.6 707.9,368.8 711.8,366.4" fill="none" stroke="#2196f3" stroke-width="1.1" stroke-linejoin="round" stroke-linecap="round"/>
<polyline points="10.3,368.4 16.4,368.7 24.9,368.7 34.0,367.1 43.1,365.8 52.2,364.5 60.0,363.9 66.5,363.5 75.6,363.5 83.4,363.5 91.2,364.1 97.7,364.8 104.2,365.1 112.0,364.5 121.1,363.2 130.2,362.2 138.0,361.3 148.4,360.2 156.5,359.8 163.0,359.4 169.5,358.8 176.0,358.4 183.8,357.8 189.0,356.6 195.5,355.5 202.0,354.2 211.1,352.6 217.6,351.0 222.8,350.0 230.6,348.4 238.4,346.8 243.6,345.8 248.8,343.8 254.0,341.9 259.2,339.9 263.1,338.6 267.0,337.7 272.2,337.6 280.0,337.3 283.9,337.6 287.8,338.0 293.0,339.3 303.0,341.2 311.4,342.5 316.0,342.8 321.2,342.1 325.7,341.2 330.3,339.5 334.8,337.6 338.7,336.3 343.3,336.3 348.5,336.9 352.4,338.2 356.9,340.6 361.5,342.8 366.7,345.0 371.2,347.3 375.8,349.7 380.3,352.5 384.9,354.5 389.4,356.2 394.0,356.7 398.5,356.8 403.1,356.4 407.6,356.1 412.2,356.1 416.7,356.7 421.3,357.1 425.8,357.7 430.4,358.0 434.9,358.7 439.3,359.1 448.4,360.8 457.5,364.7 466.6,369.3 474.4,375.8 479.6,381.6 489.1,390.1 497.5,396.6 502.7,399.6 507.6,401.5 512.5,403.5 517.0,404.4 521.6,404.4 525.5,403.1 530.0,401.1 534.6,398.5 539.1,396.3 543.7,394.4 548.2,393.1 552.8,392.4 557.3,392.4 561.9,393.3 566.4,394.0 571.0,394.9 575.5,395.7 580.1,396.3 584.6,396.6 589.2,397.0 593.7,398.5 598.3,399.8 602.8,401.8 608.0,404.1 612.6,405.7 617.3,406.5 620.8,404.9 626.0,402.6 630.5,400.9 635.1,399.3 639.6,397.0 644.2,394.8 648.7,392.7 653.3,390.2 657.8,387.9 662.4,385.6 666.6,383.1 670.8,381.1 675.4,380.1 680.6,379.1 685.1,378.4 689.7,377.5 694.2,376.8 699.4,376.2 703.3,375.3 707.9,374.2 711.8,372.9" fill="none" stroke="#ff6d00" stroke-width="1.1" stroke-linejoin="round" stroke-linecap="round"/>
</g>
<text x="18.2" y="28.6" font-size="12" fill="#131722" stroke="#131722" stroke-width="0.3" textLength="93.4" lengthAdjust="spacingAndGlyphs">USD/INR Spot, 1D</text>
<text x="119.2" y="28.6" font-size="12" fill="#131722" stroke="#131722" stroke-width="0.3" textLength="7.6" lengthAdjust="spacingAndGlyphs">O</text>
<text x="127.7" y="28.6" font-size="12" fill="#f23645" stroke="#f23645" stroke-width="0.3" textLength="47.7" lengthAdjust="spacingAndGlyphs">85.87450</text>
<text x="183.8" y="28.6" font-size="12" fill="#131722" stroke="#131722" stroke-width="0.3" textLength="6.8" lengthAdjust="spacingAndGlyphs">H</text>
<text x="191.3" y="28.6" font-size="12" fill="#f23645" stroke="#f23645" stroke-width="0.3" textLength="47.9" lengthAdjust="spacingAndGlyphs">86.05240</text>
<text x="247.4" y="28.6" font-size="12" fill="#131722" stroke="#131722" stroke-width="0.3" textLength="5.2" lengthAdjust="spacingAndGlyphs">L</text>
<text x="253.4" y="28.6" font-size="12" fill="#f23645" stroke="#f23645" stroke-width="0.3" textLength="47.9" lengthAdjust="spacingAndGlyphs">85.66650</text>
<text x="308.8" y="28.6" font-size="12" fill="#131722" stroke="#131722" stroke-width="0.3" textLength="6.6" lengthAdjust="spacingAndGlyphs">C</text>
<text x="316" y="28.6" font-size="12" fill="#f23645" stroke="#f23645" stroke-width="0.3" textLength="47.7" lengthAdjust="spacingAndGlyphs">85.82600</text>
<text x="371.8" y="28.6" font-size="12" fill="#f23645" stroke="#f23645" stroke-width="0.3" textLength="47.3" lengthAdjust="spacingAndGlyphs">−0.08905</text>
<text x="424.8" y="28.6" font-size="12" fill="#f23645" stroke="#f23645" stroke-width="0.3" textLength="43.7" lengthAdjust="spacingAndGlyphs">(−0.10%)</text>
<text x="18.2" y="46.4" font-size="12" fill="#131722" stroke="#131722" stroke-width="0.3" textLength="95.7" lengthAdjust="spacingAndGlyphs">MA (100, close, 0)</text>
<text x="122" y="46.4" font-size="12" fill="#2196f3" stroke="#2196f3" stroke-width="0.3" textLength="47.8" lengthAdjust="spacingAndGlyphs">86.10819</text>
<text x="18.4" y="234.7" font-size="12" fill="#131722" stroke="#131722" stroke-width="0.3" textLength="39.6" lengthAdjust="spacingAndGlyphs">RSI (14)</text>
<text x="66.8" y="234.7" font-size="12" fill="#9c59c6" stroke="#9c59c6" stroke-width="0.3" textLength="29.6" lengthAdjust="spacingAndGlyphs">55.40</text>
<text x="18.1" y="338.7" font-size="12" fill="#131722" stroke="#131722" stroke-width="0.3" textLength="125.1" lengthAdjust="spacingAndGlyphs">MACD (12, 26, close, 9)</text>
<text x="151.3" y="338.7" font-size="12" fill="#26a69a" stroke="#26a69a" stroke-width="0.3" textLength="40.9" lengthAdjust="spacingAndGlyphs">0.06536</text>
<text x="200.4" y="338.7" font-size="12" fill="#2196f3" stroke="#2196f3" stroke-width="0.3" textLength="41.2" lengthAdjust="spacingAndGlyphs">0.07930</text>
<text x="250.1" y="338.7" font-size="12" fill="#ff6d00" stroke="#ff6d00" stroke-width="0.3" textLength="40.9" lengthAdjust="spacingAndGlyphs">0.01393</text>
<text x="1086.2" y="40.7" font-size="12" fill="#131722" stroke="#131722" stroke-width="0.3" textLength="48" lengthAdjust="spacingAndGlyphs">88.00000</text>
<text x="1086.2" y="80.7" font-size="12" fill="#131722" stroke="#131722" stroke-width="0.3" textLength="48" lengthAdjust="spacingAndGlyphs">87.00000</text>
<text x="1086.2" y="199.7" font-size="12" fill="#131722" stroke="#131722" stroke-width="0.3" textLength="48" lengthAdjust="spacingAndGlyphs">84.00000</text>
<text x="1086.2" y="248.5" font-size="12" fill="#131722" stroke="#131722" stroke-width="0.3" textLength="29.4" lengthAdjust="spacingAndGlyphs">75.00</text>
<text x="1086.2" y="282.7" font-size="12" fill="#131722" stroke="#131722" stroke-width="0.3" textLength="29.4" lengthAdjust="spacingAndGlyphs">50.00</text>
<text x="1086.2" y="316.59999999999997" font-size="12" fill="#131722" stroke="#131722" stroke-width="0.3" textLength="29.4" lengthAdjust="spacingAndGlyphs">25.00</text>
<text x="1086.2" y="330.6" font-size="12" fill="#131722" stroke="#131722" stroke-width="0.3" textLength="41.8" lengthAdjust="spacingAndGlyphs">0.50000</text>
<rect x="1078" y="81" width="62" height="17" rx="2" ry="2" fill="#2196f3"/>
<text x="1086.2" y="93.7" font-size="12" fill="#ffffff" stroke="#ffffff" stroke-width="0.3" textLength="48" lengthAdjust="spacingAndGlyphs">86.10819</text>
<rect x="1078" y="98" width="62" height="17" rx="2" ry="2" fill="#2a2e39"/>
<text x="1086.2" y="110.7" font-size="12" fill="#ffffff" stroke="#ffffff" stroke-width="0.3" textLength="48" lengthAdjust="spacingAndGlyphs">86.00000</text>
<rect x="1078" y="115" width="62" height="17" rx="2" ry="2" fill="#f23645"/>
<text x="1086.2" y="127.7" font-size="12" fill="#ffffff" stroke="#ffffff" stroke-width="0.3" textLength="48" lengthAdjust="spacingAndGlyphs">85.82600</text>
<rect x="1078" y="148" width="62" height="17" rx="2" ry="2" fill="#2a2e39"/>
<text x="1086.2" y="160.7" font-size="12" fill="#ffffff" stroke="#ffffff" stroke-width="0.3" textLength="48" lengthAdjust="spacingAndGlyphs">85.00000</text>
<rect x="1078" y="263" width="43" height="17" rx="2" ry="2" fill="#9c59c6"/>
<text x="1086.2" y="275.7" font-size="12" fill="#ffffff" stroke="#ffffff" stroke-width="0.3" textLength="29.4" lengthAdjust="spacingAndGlyphs">55.40</text>
<rect x="1078" y="343" width="56" height="17" rx="2" ry="2" fill="#2196f3"/>
<text x="1086.2" y="355.7" font-size="12" fill="#ffffff" stroke="#ffffff" stroke-width="0.3" textLength="41.8" lengthAdjust="spacingAndGlyphs">0.07930</text>
<rect x="1078" y="360" width="56" height="17" rx="2" ry="2" fill="#26a69a"/>
<text x="1086.2" y="372.7" font-size="12" fill="#ffffff" stroke="#ffffff" stroke-width="0.3" textLength="41.8" lengthAdjust="spacingAndGlyphs">0.06536</text>
<rect x="1078" y="377" width="56" height="17" rx="2" ry="2" fill="#ff6d00"/>
<text x="1086.2" y="389.7" font-size="12" fill="#ffffff" stroke="#ffffff" stroke-width="0.3" textLength="41.8" lengthAdjust="spacingAndGlyphs">0.01393</text>
<g clip-path="url(#ct)">
<text x="16.4" y="440" font-size="11.7" fill="#131722" stroke="#131722" stroke-width="0.15" text-anchor="middle">Nov</text>
<text x="111.7" y="440" font-size="11.7" fill="#131722" stroke="#131722" stroke-width="0.15" text-anchor="middle">Dec</text>
<text x="316.5" y="440" font-size="11.7" fill="#131722" stroke="#131722" stroke-width="0.15" text-anchor="middle">Feb</text>
<text x="407.5" y="440" font-size="11.7" fill="#131722" stroke="#131722" stroke-width="0.15" text-anchor="middle">Mar</text>
<text x="503.5" y="440" font-size="11.7" fill="#131722" stroke="#131722" stroke-width="0.15" text-anchor="middle">Apr</text>
<text x="598.5" y="440" font-size="11.7" fill="#131722" stroke="#131722" stroke-width="0.15" text-anchor="middle">May</text>
<text x="698.7" y="440" font-size="11.7" fill="#131722" stroke="#131722" stroke-width="0.15" text-anchor="middle">Jun</text>
<text x="830.6" y="440" font-size="11.7" fill="#131722" stroke="#131722" stroke-width="0.15" text-anchor="middle">Jul</text>
<text x="971.6" y="440" font-size="11.7" fill="#131722" stroke="#131722" stroke-width="0.15" text-anchor="middle">Aug</text>
<text x="211.7" y="440" font-size="11.7" fill="#131722" stroke="#131722" stroke-width="0.0" font-weight="bold" text-anchor="middle">2025</text>
</g>
<g transform="translate(10.2,459.9) scale(0.54)" fill="#131722"><path d="M14 22H7V11H0V4h14v18z"/><path d="M28.6 22h-8.6l7.5-18h8.7z"/><circle cx="20" cy="8" r="4"/></g>
<text x="33.2" y="471.6" font-size="12.5" fill="#131722" stroke="#131722" stroke-width="0.05" textLength="69.6" lengthAdjust="spacingAndGlyphs">TradingView</text>
</svg>
</body></html>
